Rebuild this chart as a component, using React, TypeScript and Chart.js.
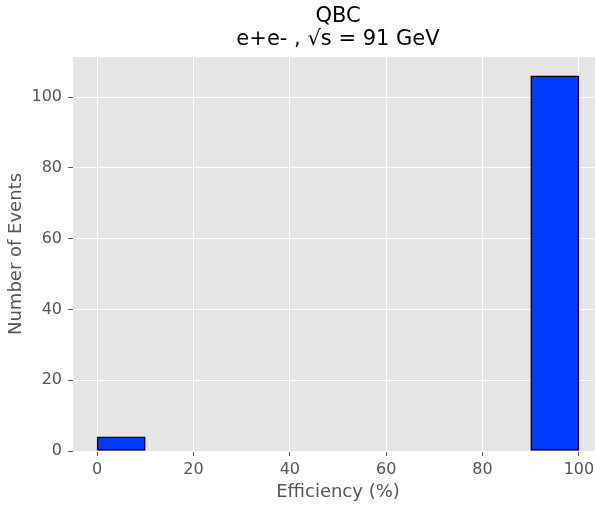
import React, { useEffect, useRef } from "react";
import { Chart, registerables } from "chart.js";

Chart.register(...registerables);

const binCenters = [5, 15, 25, 35, 45, 55, 65, 75, 85, 95];
const counts: (number | null)[] = [4, null, null, null, null, null, null, null, null, 106];
const xTicks = [0, 20, 40, 60, 80, 100];
const yTicks = [0, 20, 40, 60, 80, 100];
const titleLines = ["QBC", "e+e- , √s = 91 GeV"];
const xLabel = "Efficiency (%)";
const yLabel = "Number of Events";

const FONT = "'DejaVu Sans', sans-serif";

const bgPlugin = {
  id: "bgPlugin",
  beforeDraw(chart: any) {
    const { ctx, chartArea } = chart;
    ctx.save();
    ctx.fillStyle = "#E5E5E5";
    ctx.fillRect(chartArea.left, chartArea.top, chartArea.right - chartArea.left, chartArea.bottom - chartArea.top);
    ctx.restore();
  },
};

export default function App() {
  const ref = useRef<HTMLCanvasElement>(null);
  useEffect(() => {
    document.body.style.margin = "0";
    document.body.style.overflow = "hidden";
    const chart = new Chart(ref.current!, {
      type: "bar",
      data: {
        datasets: [
          {
            data: binCenters.map((x, i) => ({ x, y: counts[i] })) as any,
            backgroundColor: "#003BFF",
            borderColor: "#000000",
            borderWidth: 1.5,
            borderSkipped: false,
            barPercentage: 1,
            categoryPercentage: 1,
          },
        ],
      },
      options: {
        animation: false,
        responsive: false,
        devicePixelRatio: 1,
        layout: { padding: { left: 0, right: 0, top: 0, bottom: 0 } },
        plugins: {
          legend: { display: false },
          tooltip: { enabled: false },
          title: {
            display: true,
            text: titleLines,
            color: "#000000",
            fullSize: false,
            font: { family: FONT, size: 21, weight: "normal", lineHeight: 1.1 },
            padding: { top: 5, bottom: 5.8 },
          },
        },
        scales: {
          x: {
            type: "linear",
            min: -5,
            max: 105,
            offset: false,
            afterBuildTicks: (s: any) => {
              s.ticks = xTicks.map((v) => ({ value: v }));
            },
            afterFit: (s: any) => {
              s.height = 54;
            },
            grid: { offset: false, color: "#FFFFFF", lineWidth: 1, tickColor: "#555555", tickLength: 5, drawOnChartArea: true },
            border: { display: false },
            ticks: { color: "#555555", font: { family: FONT, size: 16 }, padding: 4, maxRotation: 0 },
            title: { display: true, text: xLabel, color: "#555555", font: { family: FONT, size: 18 }, padding: { top: 0, bottom: 2 } },
          },
          y: {
            type: "linear",
            min: 0,
            max: 111.3,
            afterBuildTicks: (s: any) => {
              s.ticks = yTicks.map((v) => ({ value: v }));
            },
            afterFit: (s: any) => {
              s.width = 73;
            },
            grid: { color: "#FFFFFF", lineWidth: 1, tickColor: "#555555", tickLength: 5 },
            border: { display: false },
            ticks: { color: "#555555", font: { family: FONT, size: 16 }, padding: 6 },
            title: { display: true, text: yLabel, color: "#555555", font: { family: FONT, size: 18 }, padding: { top: 6, bottom: 0 } },
          },
        },
      },
      plugins: [bgPlugin],
    });
    return () => chart.destroy();
  }, []);
  return (
    <div style={{ position: "fixed", left: 0, top: 0, width: 595, height: 505, overflow: "hidden", background: "#fff" }}>
      <canvas ref={ref} width={603} height={505} style={{ width: 603, height: 505, display: "block" }} />
    </div>
  );
}
